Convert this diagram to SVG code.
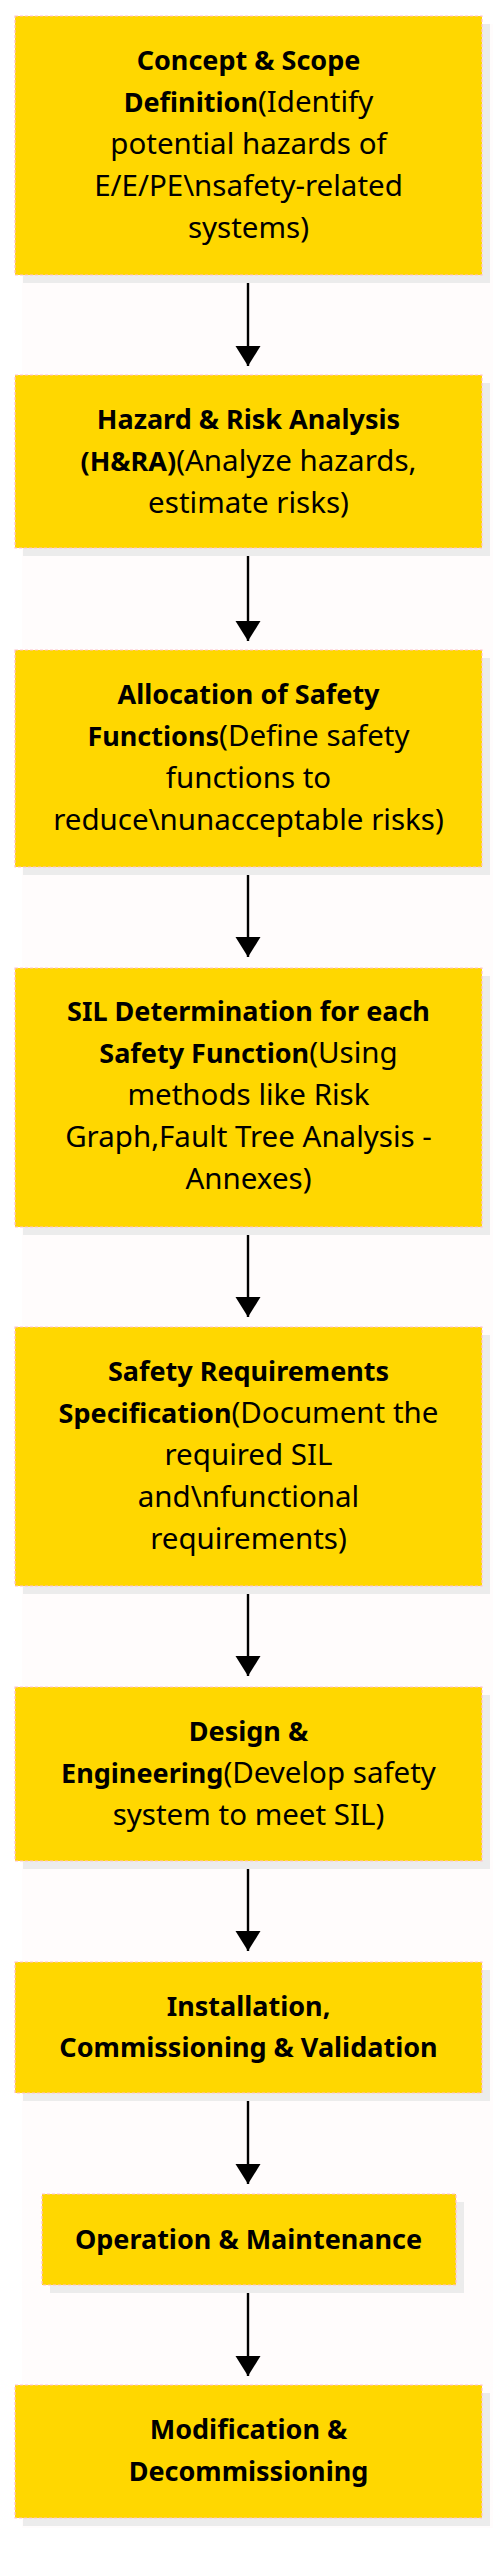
<svg xmlns="http://www.w3.org/2000/svg" width="503" height="2560" viewBox="0 0 503 2560">
<style>
.box{fill:#ffd700;stroke:#ffc0cb;stroke-width:1.2;stroke-dasharray:3 2}
.sh{fill:#ececec}
.t{font-family:"Noto Sans","DejaVu Sans",sans-serif;font-size:29.5px;fill:#000;text-anchor:middle}
.b{font-weight:bold;font-size:27px}
.c{stroke:#000;stroke-width:2.4;fill:none}
</style>
<defs>
<marker id="ah" markerUnits="userSpaceOnUse" markerWidth="22" markerHeight="26" refX="20" refY="12.5" orient="auto">
<path d="M0,0 L20,12.5 L0,25 Z" fill="#000"/>
</marker>
</defs>
<rect x="0" y="0" width="503" height="2560" fill="#ffffff"/>
<rect x="22" y="24" width="471" height="2504" fill="#fffcfc"/>
<g id="connectors">
<line class="c" x1="248" y1="276" x2="248" y2="366" marker-end="url(#ah)"/>
<line class="c" x1="248" y1="549" x2="248" y2="641" marker-end="url(#ah)"/>
<line class="c" x1="248" y1="868" x2="248" y2="957" marker-end="url(#ah)"/>
<line class="c" x1="248" y1="1228" x2="248" y2="1317" marker-end="url(#ah)"/>
<line class="c" x1="248" y1="1587" x2="248" y2="1676" marker-end="url(#ah)"/>
<line class="c" x1="248" y1="1862" x2="248" y2="1951" marker-end="url(#ah)"/>
<line class="c" x1="248" y1="2094" x2="248" y2="2184" marker-end="url(#ah)"/>
<line class="c" x1="248" y1="2286" x2="248" y2="2376" marker-end="url(#ah)"/>
</g>
<g id="n1">
<rect class="sh" x="23" y="24" width="467" height="259"/>
<rect class="box" x="15" y="16" width="467" height="259"/>
<text class="t" x="248.5" y="70"><tspan class="b">Concept &amp; Scope</tspan></text>
<text class="t" x="248.5" y="112"><tspan class="b">Definition</tspan>(Identify</text>
<text class="t" x="248.5" y="154">potential hazards of</text>
<text class="t" x="248.5" y="196">E/E/PE\nsafety-related</text>
<text class="t" x="248.5" y="238">systems)</text>
</g>
<g id="n2">
<rect class="sh" x="23" y="383" width="467" height="173"/>
<rect class="box" x="15" y="375" width="467" height="173"/>
<text class="t" x="248.5" y="429"><tspan class="b">Hazard &amp; Risk Analysis</tspan></text>
<text class="t" x="248.5" y="471"><tspan class="b">(H&amp;RA)</tspan>(Analyze hazards,</text>
<text class="t" x="248.5" y="513">estimate risks)</text>
</g>
<g id="n3">
<rect class="sh" x="23" y="658" width="467" height="217"/>
<rect class="box" x="15" y="650" width="467" height="217"/>
<text class="t" x="248.5" y="704"><tspan class="b">Allocation of Safety</tspan></text>
<text class="t" x="248.5" y="746"><tspan class="b">Functions</tspan>(Define safety</text>
<text class="t" x="248.5" y="788">functions to</text>
<text class="t" x="248.5" y="830">reduce\nunacceptable risks)</text>
</g>
<g id="n4">
<rect class="sh" x="23" y="976" width="467" height="259"/>
<rect class="box" x="15" y="968" width="467" height="259"/>
<text class="t" x="248.5" y="1021"><tspan class="b">SIL Determination for each</tspan></text>
<text class="t" x="248.5" y="1063"><tspan class="b">Safety Function</tspan>(Using</text>
<text class="t" x="248.5" y="1105">methods like Risk</text>
<text class="t" x="248.5" y="1147">Graph,Fault Tree Analysis -</text>
<text class="t" x="248.5" y="1189">Annexes)</text>
</g>
<g id="n5">
<rect class="sh" x="23" y="1335" width="467" height="259"/>
<rect class="box" x="15" y="1327" width="467" height="259"/>
<text class="t" x="248.5" y="1381"><tspan class="b">Safety Requirements</tspan></text>
<text class="t" x="248.5" y="1423"><tspan class="b">Specification</tspan>(Document the</text>
<text class="t" x="248.5" y="1465">required SIL</text>
<text class="t" x="248.5" y="1507">and\nfunctional</text>
<text class="t" x="248.5" y="1549">requirements)</text>
</g>
<g id="n6">
<rect class="sh" x="23" y="1695" width="467" height="174"/>
<rect class="box" x="15" y="1687" width="467" height="174"/>
<text class="t" x="248.5" y="1741"><tspan class="b">Design &amp;</tspan></text>
<text class="t" x="248.5" y="1783"><tspan class="b">Engineering</tspan>(Develop safety</text>
<text class="t" x="248.5" y="1825">system to meet SIL)</text>
</g>
<g id="n7">
<rect class="sh" x="23" y="1970" width="467" height="131"/>
<rect class="box" x="15" y="1962" width="467" height="131"/>
<text class="t b" x="248.5" y="2016">Installation,</text>
<text class="t b" x="248.5" y="2057">Commissioning &amp; Validation</text>
</g>
<g id="n8">
<rect class="sh" x="50" y="2202" width="414" height="91"/>
<rect class="box" x="42" y="2194" width="414" height="91"/>
<text class="t b" x="248.5" y="2249">Operation &amp; Maintenance</text>
</g>
<g id="n9">
<rect class="sh" x="23" y="2393" width="467" height="133"/>
<rect class="box" x="15" y="2385" width="467" height="133"/>
<text class="t b" x="248.5" y="2439">Modification &amp;</text>
<text class="t b" x="248.5" y="2481">Decommissioning</text>
</g>
</svg>
